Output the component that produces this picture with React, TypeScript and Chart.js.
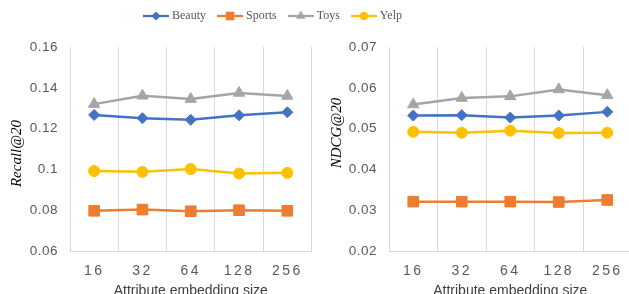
import React, { useEffect, useRef } from 'react';
import { Chart, registerables } from 'chart.js';

Chart.register(...registerables);

// ---------- data ----------
const SIZES = ['16', '32', '64', '128', '256'];
const SERIES = ['Beauty', 'Sports', 'Toys', 'Yelp'];

const RECALL_BEAUTY = [0.1267, 0.1251, 0.1243, 0.1265, 0.128];
const RECALL_SPORTS = [0.0797, 0.0803, 0.0795, 0.08, 0.0797];
const RECALL_TOYS = [0.132, 0.1361, 0.1345, 0.1375, 0.136];
const RECALL_YELP = [0.0992, 0.0988, 0.1002, 0.098, 0.0983];

const NDCG_BEAUTY = [0.0532, 0.0533, 0.0527, 0.0532, 0.0541];
const NDCG_SPORTS = [0.0321, 0.0321, 0.0321, 0.032, 0.0325];
const NDCG_TOYS = [0.0559, 0.0575, 0.0579, 0.0596, 0.0582];
const NDCG_YELP = [0.0492, 0.049, 0.0495, 0.0489, 0.049];

const RECALL_TICKS = { min: 0.06, max: 0.16, step: 0.02 };
const NDCG_TICKS = { min: 0.02, max: 0.07, step: 0.01 };

const X_TITLE = 'Attribute embedding size';
const LEFT_Y_TITLE = 'Recall@20';
const RIGHT_Y_TITLE = 'NDCG@20';

// ---------- styles ----------
const COLORS = ['#4472C4', '#ED7D31', '#A5A5A5', '#FFC000'];
const MARKERS = ['rectRot', 'rect', 'triangle', 'circle'];
const MARKER_RADII = [5.5, 7.5, 6.5, 5.5];
const GRID = '#D9D9D9';
const TICK_COLOR = '#595959';
const SANS = '"Liberation Sans", Arial, sans-serif';
const SERIF = '"Liberation Serif", "Times New Roman", serif';

const spacingPlugin = {
  id: 'tickSpacing',
  beforeDraw(chart: any, _args: any, opts: any) {
    const pairs: [string, string][] = [
      ['x', opts.x || '0px'],
      ['y', opts.y || '0px'],
    ];
    for (const [id, sp] of pairs) {
      const s = chart.scales[id];
      if (!s || s.__patched) continue;
      const orig = s.drawLabels.bind(s);
      s.drawLabels = (area: any) => {
        const ctx = s.ctx;
        ctx.save();
        ctx.letterSpacing = sp;
        orig(area);
        ctx.restore();
      };
      s.__patched = true;
    }
  },
};

const yTitlePlugin = {
  id: 'yTitle',
  afterDraw(chart: any, _args: any, opts: any) {
    if (!opts || !opts.text) return;
    const ctx = chart.ctx;
    ctx.save();
    ctx.translate(opts.x, opts.y);
    ctx.rotate(-Math.PI / 2);
    ctx.font = `italic 15px ${SERIF}`;
    ctx.fillStyle = '#000000';
    ctx.textAlign = 'center';
    ctx.textBaseline = 'middle';
    ctx.fillText(opts.text, 0, 0);
    ctx.restore();
  },
};

function makeDatasets(values: number[][]) {
  return SERIES.map((name, i) => ({
    label: name,
    data: values[i],
    borderColor: COLORS[i],
    backgroundColor: COLORS[i],
    borderWidth: 2.5,
    pointStyle: MARKERS[i],
    pointRadius: MARKER_RADII[i],
    pointBorderWidth: 1,
    pointBackgroundColor: COLORS[i],
    pointBorderColor: COLORS[i],
    tension: 0,
    fill: false,
  }));
}

function makeConfig(
  values: number[][],
  t: { min: number; max: number; step: number },
  yTitle: string,
  yTitleY: number,
  yWidth: number,
  padRight: number
): any {
  return {
    type: 'line',
    data: { labels: SIZES, datasets: makeDatasets(values) },
    plugins: [spacingPlugin, yTitlePlugin],
    options: {
      responsive: false,
      animation: false,
      events: [],
      layout: { padding: { top: 47, right: padRight, left: 0, bottom: 0 } },
      plugins: {
        legend: { display: false },
        tooltip: { enabled: false },
        tickSpacing: { x: '2.4px', y: '0.5px' },
        yTitle: { text: yTitle, x: 17, y: yTitleY },
      },
      scales: {
        x: {
          type: 'category',
          offset: true,
          grid: { offset: true, color: GRID, lineWidth: 1, drawTicks: false },
          border: { display: true, color: GRID, width: 1 },
          ticks: { color: TICK_COLOR, font: { family: SANS, size: 14 }, padding: 12, maxRotation: 0 },
          title: {
            display: true,
            text: X_TITLE,
            color: '#404040',
            font: { family: SANS, size: 14 },
            padding: { top: 0, bottom: 0 },
          },
          afterFit: (s: any) => {
            s.height = 49;
          },
        },
        y: {
          min: t.min,
          max: t.max,
          grid: { display: false, drawTicks: false },
          border: { display: false },
          ticks: {
            stepSize: t.step,
            color: TICK_COLOR,
            font: { family: SANS, size: 13.5 },
            padding: 12,
            callback: (v: any) => String(Number(Number(v).toFixed(3))),
          },
          afterFit: (s: any) => {
            s.width = yWidth;
          },
        },
      },
    },
  };
}

function makeLegendImage(color: string, style: string): HTMLCanvasElement {
  const c = document.createElement('canvas');
  c.width = 26;
  c.height = 12;
  const ctx = c.getContext('2d')!;
  ctx.strokeStyle = color;
  ctx.fillStyle = color;
  ctx.lineWidth = 2.25;
  ctx.beginPath();
  ctx.moveTo(0, 6);
  ctx.lineTo(26, 6);
  ctx.stroke();
  const cx = 13;
  const cy = 6;
  ctx.beginPath();
  if (style === 'rectRot') {
    const r = 4.5;
    ctx.moveTo(cx, cy - r);
    ctx.lineTo(cx + r, cy);
    ctx.lineTo(cx, cy + r);
    ctx.lineTo(cx - r, cy);
  } else if (style === 'rect') {
    const h = 4.3;
    ctx.rect(cx - h, cy - h, 2 * h, 2 * h);
  } else if (style === 'triangle') {
    const r = 5.5;
    ctx.moveTo(cx, cy - r);
    ctx.lineTo(cx + r * 0.866, cy + r / 2);
    ctx.lineTo(cx - r * 0.866, cy + r / 2);
  } else {
    ctx.arc(cx, cy, 4.3, 0, Math.PI * 2);
  }
  ctx.closePath();
  ctx.fill();
  return c;
}

export default function App() {
  const legendRef = useRef<HTMLCanvasElement>(null);
  const leftRef = useRef<HTMLCanvasElement>(null);
  const rightRef = useRef<HTMLCanvasElement>(null);

  useEffect(() => {
    const images = SERIES.map((_, i) => makeLegendImage(COLORS[i], MARKERS[i]));
    const legendChart = new Chart(legendRef.current!, {
      type: 'line',
      data: {
        labels: [],
        datasets: SERIES.map((name, i) => ({ label: name, data: [], borderColor: COLORS[i], backgroundColor: COLORS[i] })),
      },
      options: {
        responsive: false,
        animation: false,
        events: [],
        layout: { padding: 0 },
        scales: { x: { display: false }, y: { display: false } },
        plugins: {
          tooltip: { enabled: false },
          legend: {
            display: true,
            position: 'top',
            labels: {
              usePointStyle: true,
              pointStyleWidth: 20,
              padding: 14,
              color: TICK_COLOR,
              font: { family: SERIF, size: 12 },
              generateLabels: (chart: any) =>
                chart.data.datasets.map((ds: any, i: number) => ({
                  text: ds.label,
                  fillStyle: COLORS[i],
                  strokeStyle: COLORS[i],
                  lineWidth: 0,
                  pointStyle: images[i],
                  hidden: false,
                  datasetIndex: i,
                  fontColor: TICK_COLOR,
                })),
            },
          },
        },
      },
    } as any);

    const left = new Chart(
      leftRef.current!,
      makeConfig([RECALL_BEAUTY, RECALL_SPORTS, RECALL_TOYS, RECALL_YELP], RECALL_TICKS, LEFT_Y_TITLE, 153.5, 70, 7)
    );
    const right = new Chart(
      rightRef.current!,
      makeConfig([NDCG_BEAUTY, NDCG_SPORTS, NDCG_TOYS, NDCG_YELP], NDCG_TICKS, RIGHT_Y_TITLE, 133, 69, 8)
    );
    return () => {
      legendChart.destroy();
      left.destroy();
      right.destroy();
    };
  }, []);

  return (
    <div
      style={{
        position: 'fixed',
        left: 0,
        top: 0,
        width: 629,
        height: 294,
        overflow: 'hidden',
        background: '#ffffff',
      }}
    >
      <div style={{ position: 'absolute', left: 0, top: 0, width: 320, height: 300 }}>
        <canvas ref={leftRef} width={320} height={300} style={{ display: 'block' }} />
      </div>
      <div style={{ position: 'absolute', left: 320, top: 0, width: 320, height: 300 }}>
        <canvas ref={rightRef} width={320} height={300} style={{ display: 'block' }} />
      </div>
      <div style={{ position: 'absolute', left: 0, top: -4, width: 548, height: 100, pointerEvents: 'none' }}>
        <canvas ref={legendRef} width={548} height={100} style={{ display: 'block' }} />
      </div>
    </div>
  );
}
